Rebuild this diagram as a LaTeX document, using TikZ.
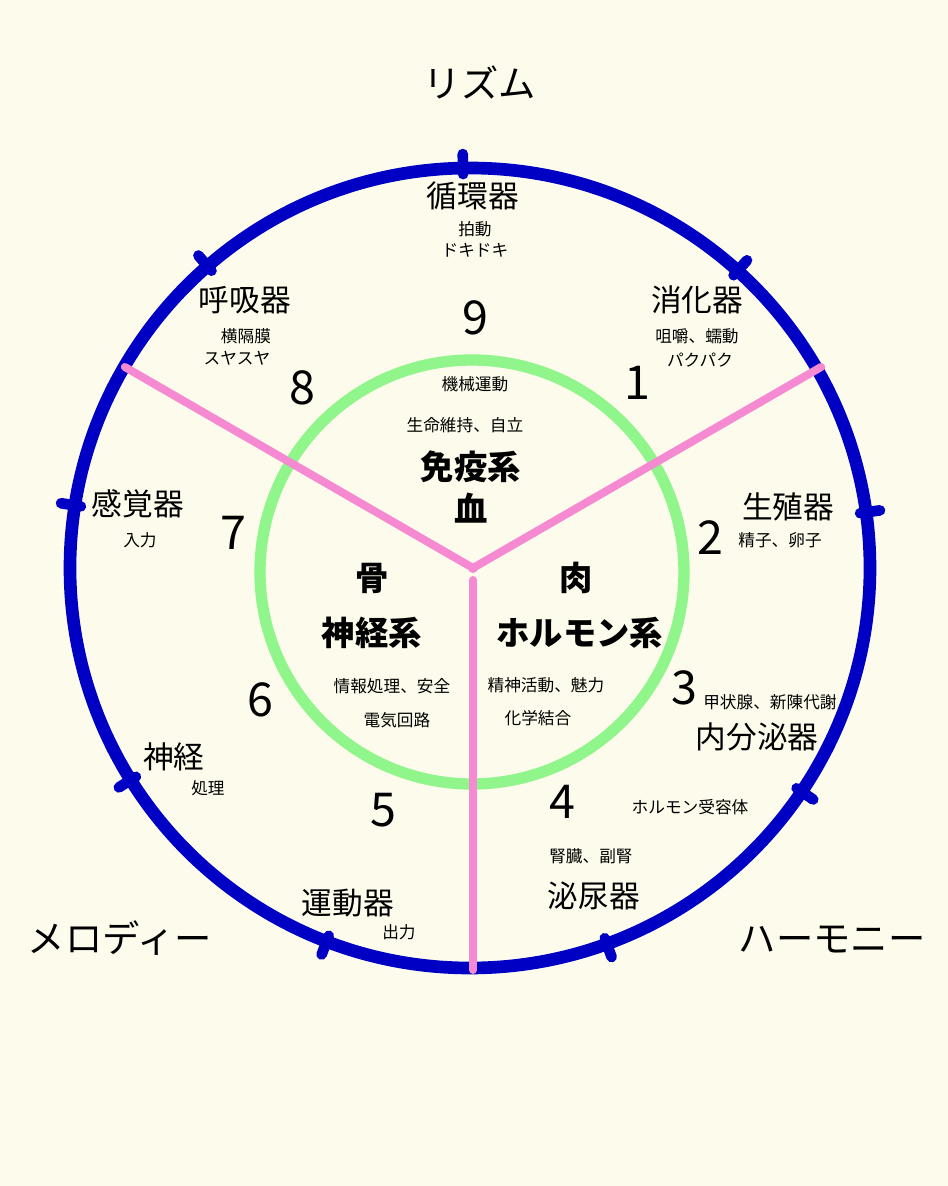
\documentclass[tikz,border=0pt]{standalone}
\usepackage{fontspec}
\setmainfont{Noto Sans CJK JP}
\usepackage{xcolor}
\usetikzlibrary{calc}
\definecolor{paper}{HTML}{FDFCEC}
\definecolor{ringblue}{HTML}{0000C4}
\definecolor{ringgreen}{HTML}{90F58A}
\definecolor{spokepink}{HTML}{F68AD2}

\begin{document}
\begin{tikzpicture}[x=0.75pt,y=0.75pt,
  title/.style={font=\fontsize{28}{30}\selectfont},
  organ/.style={font=\fontsize{23}{25}\selectfont},
  note/.style={font=\fontsize{12.5}{14}\selectfont},
  num/.style={font=\fontsize{35}{37}\selectfont},
  core/.style={font=\bfseries\fontsize{25}{27}\selectfont},
  ring/.style={draw=ringblue,line width=9.5pt},
  inner/.style={draw=ringgreen,line width=8.5pt},
  spoke/.style={draw=spokepink,line width=6pt,line cap=round},
  tickmark/.style={draw=ringblue,line width=8pt,line cap=round}]
  \fill[paper] (-470,-618) rectangle (478,568);
  % rings and spokes
  \draw[ring] (0,0) circle (400);
  \foreach \a in {91,48,8,-34,-70,-111,-148,-189,-229}
    \draw[tickmark] (\a:394) -- (\a:414);
  \draw[inner] (2,-4) circle (212);
  \coordinate (hub) at (3,0);
  \coordinate (hubdown) at (3,-12);
  \coordinate (endleft) at ($(hub)+(150:402)$);
  \coordinate (endright) at ($(hub)+(30:402)$);
  \coordinate (enddown) at (3,-402);
  \draw[spoke] (hub) -- (endleft);
  \draw[spoke] (hub) -- (endright);
  \draw[spoke] (hubdown) -- (enddown);
  \fill[spokepink] (hub) circle (5);
  % outer titles
  \node[title] (rhythm) at (10,486) {リズム};
  \node[title] (melody) at (-350,-370) {メロディー};
  \node[title] (harmony) at (362,-372) {ハーモニー};
  % organs
  \node[organ] (circ) at (3,372) {循環器};
  \node[note] (circ-a) at (5,339) {拍動};
  \node[note] (circ-b) at (5,318) {ドキドキ};
  \node[organ] (resp) at (-225,268) {呼吸器};
  \node[note] (resp-a) at (-224,232) {横隔膜};
  \node[note] (resp-b) at (-233,210) {スヤスヤ};
  \node[organ] (dige) at (227,268) {消化器};
  \node[note] (dige-a) at (227,232) {咀嚼、蠕動};
  \node[note] (dige-b) at (230,208) {パクパク};
  \node[organ] (sense) at (-332,64) {感覚器};
  \node[note] (sense-a) at (-330,28) {入力};
  \node[organ] (repro) at (318,61) {生殖器};
  \node[note] (repro-a) at (310,28) {精子、卵子};
  \node[note] (endo-a) at (300,-134) {甲状腺、新陳代謝};
  \node[organ] (endo) at (287,-169) {内分泌器};
  \node[organ] (nerve) at (-296,-189) {神経};
  \node[note] (nerve-a) at (-262,-220) {処理};
  \node[note] (recep) at (220,-239) {ホルモン受容体};
  \node[note] (urin-a) at (121,-288) {腎臓、副腎};
  \node[organ] (urin) at (124,-328) {泌尿器};
  \node[organ] (motor) at (-122,-335) {運動器};
  \node[note] (motor-a) at (-71,-364) {出力};
  % numbers
  \node[num] (n9) at (5,250) {9};
  \node[num] (n1) at (167,185) {1};
  \node[num] (n2) at (240,30) {2};
  \node[num] (n3) at (214,-120) {3};
  \node[num] (n4) at (92,-234) {4};
  \node[num] (n5) at (-87,-242) {5};
  \node[num] (n6) at (-210,-132) {6};
  \node[num] (n7) at (-237,35) {7};
  \node[num] (n8) at (-168,180) {8};
  % inner circle
  \node[note] (mech) at (5,184) {機械運動};
  \node[note] (life) at (-5,143) {生命維持、自立};
  \node[core] (immune) at (1,101) {免疫系};
  \node[core] (blood) at (1,60) {血};
  \node[core] (bone) at (-98,-10) {骨};
  \node[core] (neuro) at (-98,-65) {神経系};
  \node[note] (info) at (-78,-118) {情報処理、安全};
  \node[note] (elec) at (-73,-152) {電気回路};
  \node[core] (flesh) at (106,-10) {肉};
  \node[core] (hormone) at (110,-65) {ホルモン系};
  \node[note] (mind) at (76,-117) {精神活動、魅力};
  \node[note] (chem) at (68,-150) {化学結合};
\end{tikzpicture}
\end{document}
